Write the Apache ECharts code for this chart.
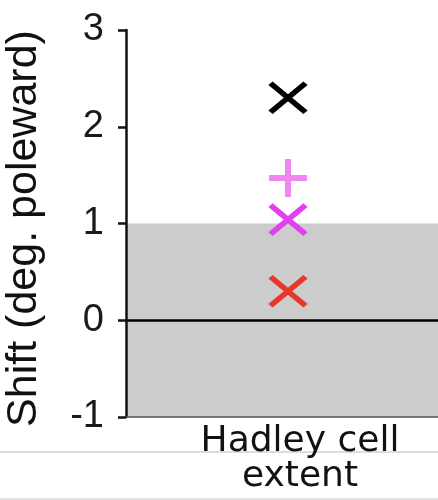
<!DOCTYPE html>
<html><head><meta charset="utf-8">
<script src="https://cdn.jsdelivr.net/npm/echarts@6/dist/echarts.min.js"></script>
<style>html,body{margin:0;padding:0;background:#fff}#c{width:438px;height:500px}</style>
</head><body><div id="c"></div>
<script>
const categories = ['Hadley cell\nextent'];
const yTicks = [-1, 0, 1, 2, 3];
const bandRange = [-1, 1];
const blackX = [2.30];
const pinkPlus = [1.47];
const magentaX = [1.04];
const redX = [0.30];

const xPath = 'path://M0,0L35,29M35,0L0,29';
const plusPath = 'path://M19,0L19,38M0,19L38,19';

function mk(name, vals, sym, size, color, bw) {
  return {
    name, type: 'scatter', data: vals, symbol: sym, symbolSize: size, z: 5,
    xAxisIndex: 1,
    itemStyle: { color: 'none', borderColor: color, borderWidth: bw, opacity: 1 },
    emphasis: { disabled: true }, silent: true
  };
}

const chart = echarts.init(document.getElementById('c'), null, { renderer: 'canvas' });
chart.setOption({
  animation: false,
  grid: { left: 126, right: -12, top: 30, bottom: 83, containLabel: false, outerBoundsMode: 'none' },
  xAxis: [
    {
      type: 'value', min: 0, max: 1, show: false
    },
    {
      type: 'category', data: categories, boundaryGap: true, position: 'bottom',
      axisLine: { show: true, lineStyle: { color: '#555', width: 1.5 } },
      axisTick: { show: false },
      axisLabel: { margin: 7, fontFamily: 'DejaVu Sans', fontSize: 36, lineHeight: 35, color: '#111', padding: [0, 0, 0, 24] },
      splitLine: { show: false }, z: 6
    }
  ],
  yAxis: {
    type: 'value', min: yTicks[0], max: yTicks[yTicks.length - 1], interval: 1,
    name: 'Shift (deg. poleward)', nameLocation: 'middle', nameGap: 80,
    nameTextStyle: { fontFamily: 'Liberation Sans', fontSize: 43, color: '#111', padding: [0, 0, 0, -10] },
    axisLine: { show: true, lineStyle: { color: '#111', width: 2.5 } },
    axisTick: { show: true, inside: false, length: 8, lineStyle: { color: '#111', width: 2.5 } },
    axisLabel: { margin: 22, fontFamily: 'Liberation Sans', fontSize: 38, color: '#1a1a1a' },
    splitLine: { show: false }, z: 6
  },
  series: [
    {
      type: 'scatter', data: [], silent: true, z: 1, xAxisIndex: 0,
      markArea: {
        silent: true, itemStyle: { color: '#cccccc' },
        data: [[{ yAxis: bandRange[0] }, { yAxis: bandRange[1] }]]
      },
      markLine: {
        silent: true, symbol: ['none', 'none'], label: { show: false },
        lineStyle: { color: '#000', width: 2.5, type: 'solid' },
        data: [{ yAxis: 0 }]
      }
    },
    mk('black', blackX, xPath, [35, 29], '#000000', 5.5),
    mk('pink', pinkPlus, plusPath, [38, 38], '#ee88ee', 6),
    mk('magenta', magentaX, xPath, [35, 29], '#e040f0', 5.5),
    mk('red', redX, xPath, [35, 29], '#e6382a', 5.5)
  ],
  graphic: [
    { type: 'line', shape: { x1: 0, y1: 452, x2: 438, y2: 452 }, style: { stroke: '#dddddd', lineWidth: 2 }, z: -1 },
    { type: 'line', shape: { x1: 0, y1: 499, x2: 438, y2: 499 }, style: { stroke: '#e4e4e4', lineWidth: 2 }, z: -1 }
  ]
});
</script></body></html>
